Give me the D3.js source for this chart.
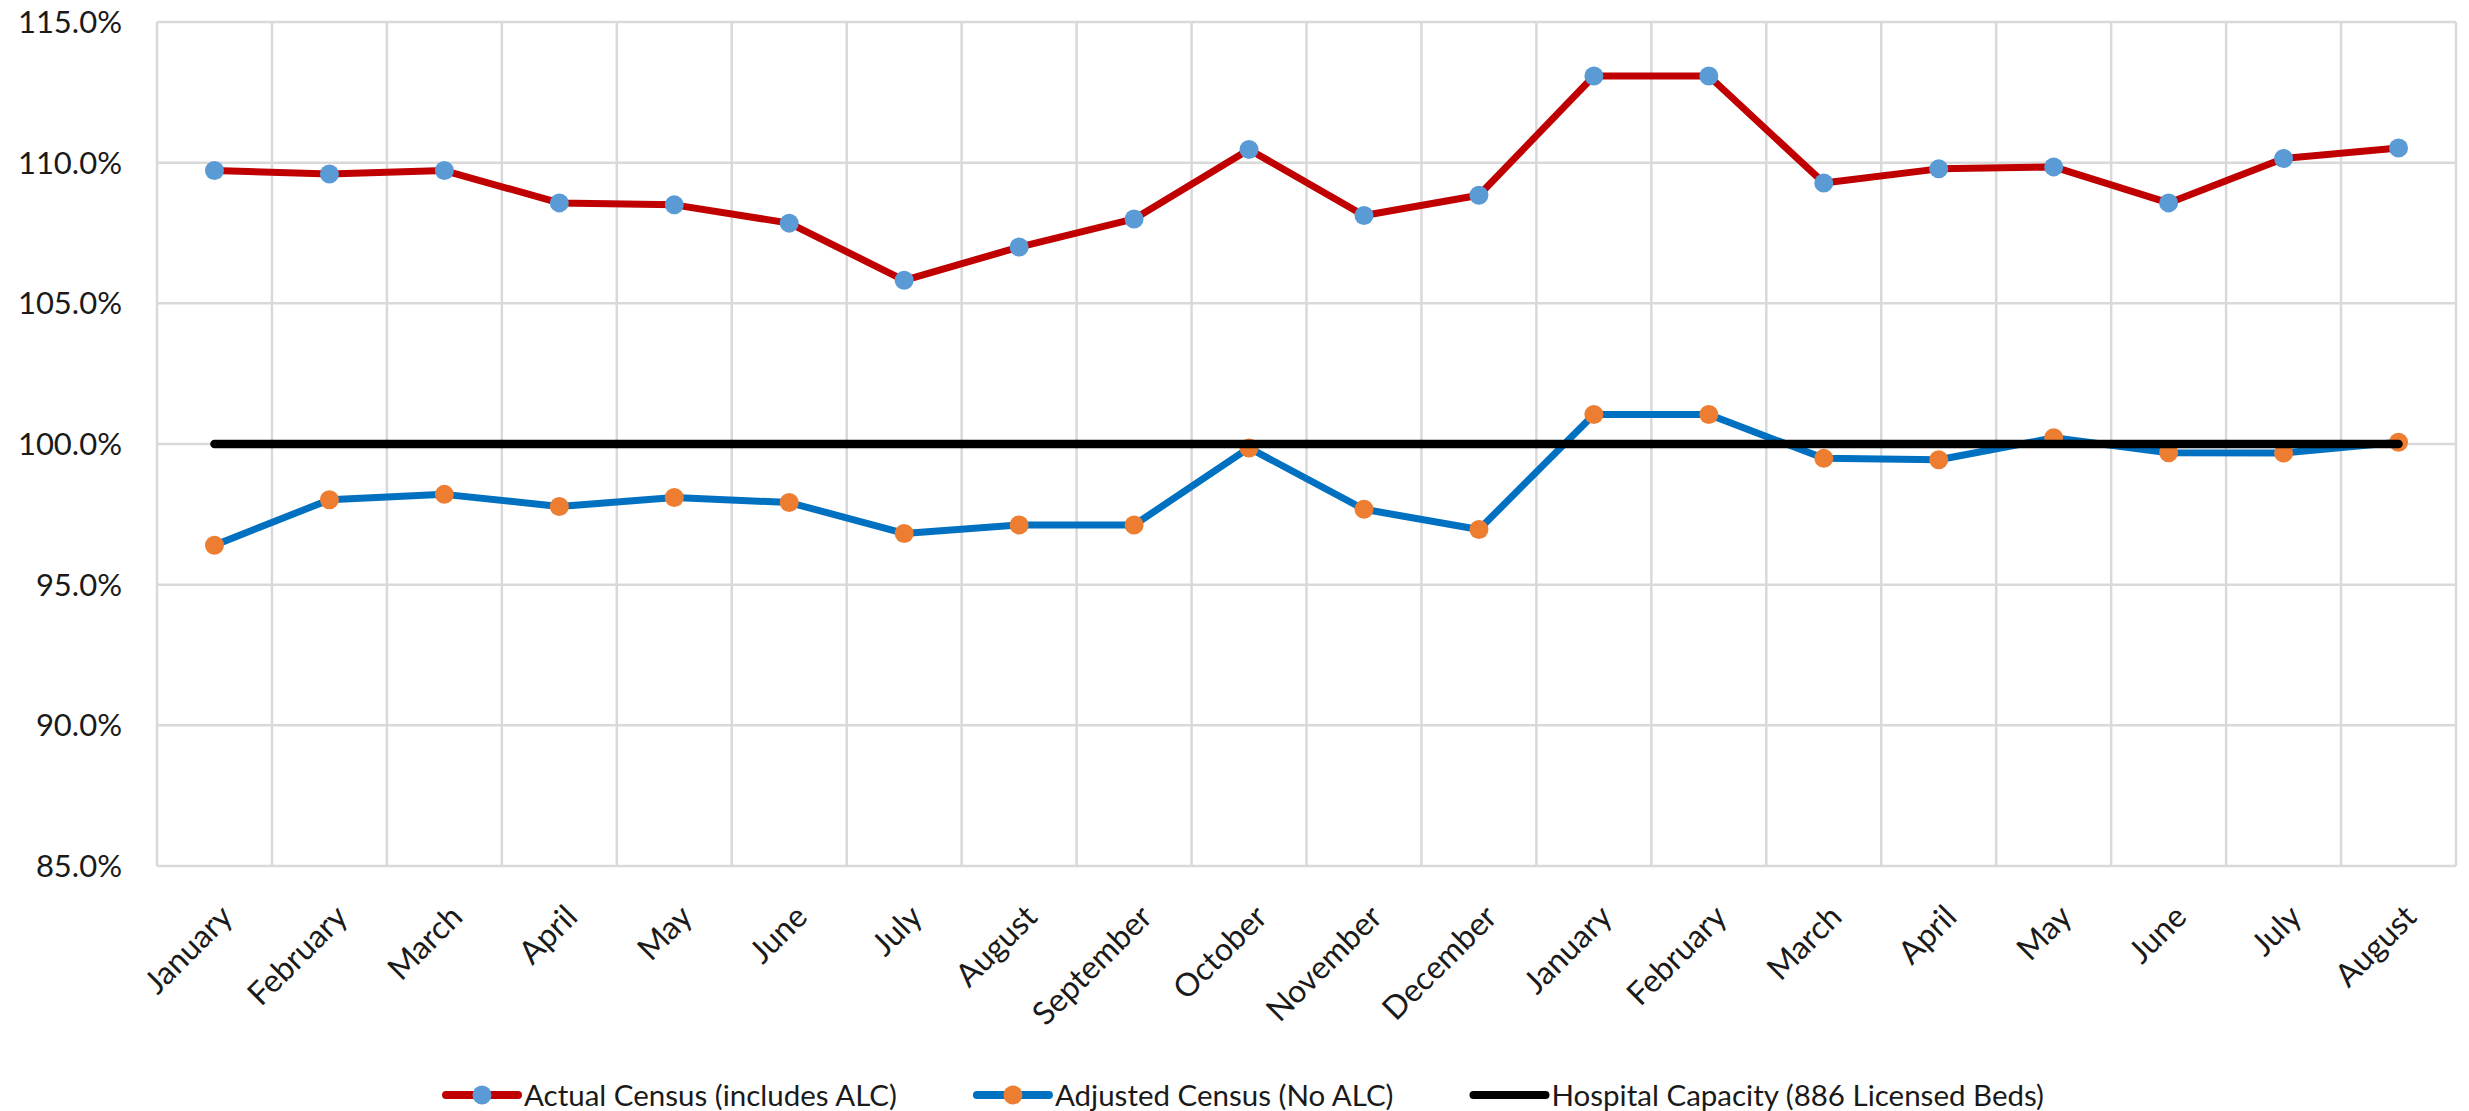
<!DOCTYPE html>
<html>
<head>
<meta charset="utf-8">
<script src="https://cdn.jsdelivr.net/npm/d3@7"></script>
<style>
  body { margin: 0; background: #fff; }
  text { font-family: Lato, "Open Sans", sans-serif; fill: #1a1a1a; }
</style>
</head>
<body>
<svg width="2469" height="1111"></svg>
<script>
var months = ["January", "February", "March", "April", "May", "June", "July", "August",
  "September", "October", "November", "December", "January", "February", "March",
  "April", "May", "June", "July", "August"];

// percent of licensed beds
var actualCensus = [109.72, 109.6, 109.72, 108.57, 108.5, 107.85, 105.82, 107.0, 108.0, 110.47,
  108.12, 108.84, 113.08, 113.08, 109.28, 109.78, 109.85, 108.57, 110.15, 110.52];
var adjustedCensus = [96.4, 98.02, 98.21, 97.78, 98.1, 97.92, 96.82, 97.12, 97.12, 99.86,
  97.68, 96.96, 101.05, 101.05, 99.49, 99.44, 100.22, 99.69, 99.68, 100.06];
var hospitalCapacity = [100, 100, 100, 100, 100, 100, 100, 100, 100, 100,
  100, 100, 100, 100, 100, 100, 100, 100, 100, 100];
var yTicks = [85, 90, 95, 100, 105, 110, 115];

var seriesNames = ["Actual Census (includes ALC)", "Adjusted Census (No ALC)", "Hospital Capacity (886 Licensed Beds)"];

var svg = d3.select("svg");
var width = +svg.attr("width"), height = +svg.attr("height");
var margin = {"top": 22, "bottom": 245, "left": 157, "right": 13};
var plotW = width - margin.left - margin.right;
var plotH = height - margin.top - margin.bottom;

var x = d3.scaleBand().domain(d3.range(months.length)).range([0, plotW]);
var y = d3.scaleLinear().domain([85, 115]).range([plotH, 0]);
var cx = function(i) { return x(i) + x.bandwidth() / 2; };

var g = svg.append("g")
    .attr("transform", "translate(" + margin.left + "," + margin.top + ")");

// grid
g.selectAll(".hgrid").data(yTicks).enter().append("line")
    .attr("class", "hgrid")
    .attr("x1", 0).attr("x2", plotW)
    .attr("y1", function(d) { return y(d); }).attr("y2", function(d) { return y(d); })
    .attr("stroke", "#d9d9d9").attr("stroke-width", 2.5);

var vlines = d3.range(months.length + 1);
g.selectAll(".vgrid").data(vlines).enter().append("line")
    .attr("class", "vgrid")
    .attr("x1", function(d) { return d < months.length ? x(d) : plotW; })
    .attr("x2", function(d) { return d < months.length ? x(d) : plotW; })
    .attr("y1", 0).attr("y2", plotH)
    .attr("stroke", "#d9d9d9").attr("stroke-width", 2.5);

// y axis labels
g.selectAll(".ylab").data(yTicks).enter().append("text")
    .attr("class", "ylab")
    .attr("x", -35)
    .attr("y", function(d) { return y(d); })
    .attr("dy", "0.36em")
    .attr("text-anchor", "end")
    .style("font-size", "31px")
    .text(function(d) { return d.toFixed(1) + "%"; });

// x axis labels
g.selectAll(".xlab").data(months).enter().append("text")
    .attr("class", "xlab")
    .attr("transform", function(d, i) {
      return "translate(" + (cx(i) + 12) + "," + (plotH + 45) + ") rotate(-45)";
    })
    .attr("dy", "0.35em")
    .attr("text-anchor", "end")
    .style("font-size", "32px")
    .text(function(d) { return d; });

var line = d3.line()
    .x(function(d, i) { return cx(i); })
    .y(function(d) { return y(d); });

var series = [
  {"values": actualCensus, "line": "#c00000", "marker": "#5b9bd5"},
  {"values": adjustedCensus, "line": "#0070c0", "marker": "#ed7d31"},
  {"values": hospitalCapacity, "line": "#000000", "marker": null}
];

series.forEach(function(s) {
  g.append("path")
      .datum(s.values)
      .attr("d", line)
      .attr("fill", "none")
      .attr("stroke", s.line)
      .attr("stroke-width", s.marker ? 7 : 8.5)
      .attr("stroke-linecap", "round")
      .attr("stroke-linejoin", "round");
  if (s.marker) {
    g.selectAll(null).data(s.values).enter().append("circle")
        .attr("cx", function(d, i) { return cx(i); })
        .attr("cy", function(d) { return y(d); })
        .attr("r", 9.5)
        .attr("fill", s.marker);
  }
});

// legend
var legend = svg.append("g");
var lx = 0, legY = 1095;
series.forEach(function(s, k) {
  var item = legend.append("g").attr("transform", "translate(" + lx + ",0)");
  item.append("line")
      .attr("x1", 2).attr("x2", 74)
      .attr("y1", legY).attr("y2", legY)
      .attr("stroke", s.line).attr("stroke-width", 8)
      .attr("stroke-linecap", "round");
  if (s.marker) {
    item.append("circle").attr("cx", 38).attr("cy", legY).attr("r", 9.5).attr("fill", s.marker);
  }
  var t = item.append("text")
      .attr("x", 80).attr("y", legY).attr("dy", "0.36em")
      .style("font-size", "29.5px")
      .text(seriesNames[k]);
  lx += 80 + t.node().getComputedTextLength() + 78;
});
var legW = lx - 78;
legend.attr("transform", "translate(" + (1244 - legW / 2) + ",0)");
</script>
</body>
</html>
